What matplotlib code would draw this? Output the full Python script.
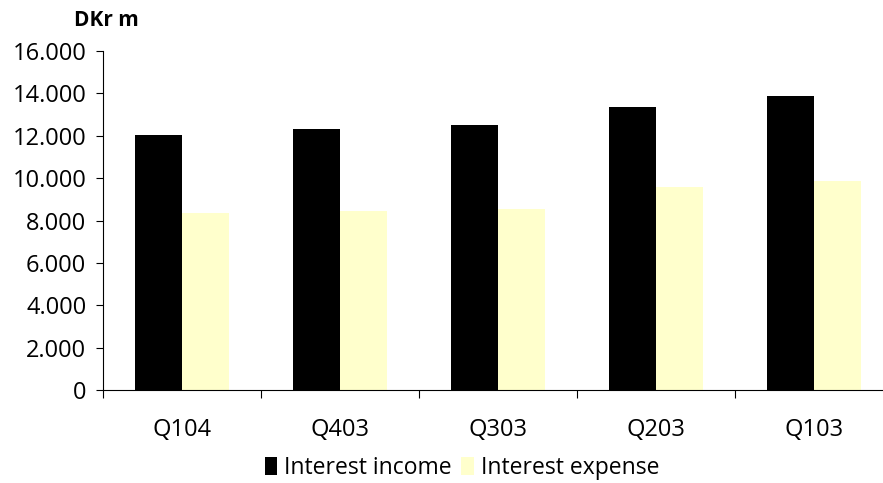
import matplotlib
matplotlib.use("Agg")
import matplotlib.pyplot as plt
import numpy as np
from matplotlib.ticker import FuncFormatter, MultipleLocator

quarters = ["Q104", "Q403", "Q303", "Q203", "Q103"]
interest_income = [12030, 12300, 12490, 13350, 13870]
interest_expense = [8350, 8450, 8540, 9580, 9850]

plt.rcParams["font.family"] = ["Open Sans", "DejaVu Sans"]

fig = plt.figure(figsize=(8.83, 4.83), dpi=100)
# axis deliberately runs slightly past the right edge
ax = fig.add_axes([103 / 883, 1 - 390.3 / 483, 790 / 883, 339.6 / 483])

x = np.arange(len(quarters))
width = 0.3
ax.bar(x - width / 2, interest_income, width, color="black", label="Interest income")
ax.bar(x + width / 2, interest_expense, width, color="#FFFFCC", label="Interest expense")

ax.set_xlim(-0.5, len(quarters) - 0.5)
ax.set_ylim(0, 16000)
ax.yaxis.set_major_locator(MultipleLocator(2000))
ax.yaxis.set_major_formatter(FuncFormatter(lambda v, _: f"{int(v):,}".replace(",", ".")))
ax.tick_params(axis="y", direction="out", length=5, width=0.8, labelsize=17, pad=7)

ax.set_xticks(x)
ax.set_xticklabels(quarters, fontsize=17)
ax.tick_params(axis="x", which="major", length=0, pad=20)
ax.set_xticks(np.arange(len(quarters) + 1) - 0.5, minor=True)
ax.tick_params(axis="x", which="minor", direction="out", length=6, width=0.8)

for side in ("top", "right"):
    ax.spines[side].set_visible(False)
for side in ("left", "bottom"):
    ax.spines[side].set_linewidth(0.8)

fig.text(74 / 883, 1 - 20 / 483, "DKr m", fontsize=15, fontweight="bold",
         ha="left", va="center")

fig.legend(loc="center", bbox_to_anchor=(462 / 883, 1 - 468 / 483), ncol=2,
           frameon=False, fontsize=16.5, handlelength=0.55, handleheight=0.8,
           handletextpad=0.3, columnspacing=0.4)

fig.savefig("out.png", dpi=100)
